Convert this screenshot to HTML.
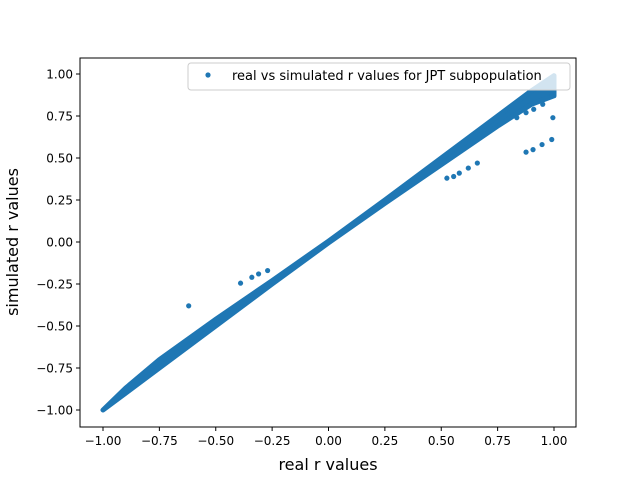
<!DOCTYPE html>
<html><head><meta charset="utf-8"><style>
body{margin:0;background:#fff;}
svg text{font-family:"DejaVu Sans","Liberation Sans",sans-serif;fill:#000;}
</style></head><body>
<svg id="chart" width="640" height="480" xmlns="http://www.w3.org/2000/svg">
<rect x="0" y="0" width="640" height="480" fill="#fff"/>
<g id="plot"></g>
<g id="axes"></g>
</svg>
<script>
const xTicks=[-1.00,-0.75,-0.50,-0.25,0.00,0.25,0.50,0.75,1.00];
const yTicks=[-1.00,-0.75,-0.50,-0.25,0.00,0.25,0.50,0.75,1.00];
const bandReal=[-1.0,-0.9,-0.75,-0.5,-0.25,0.0,0.25,0.5,0.75,0.9,1.0];
const bandSimLow=[-1.0,-0.9,-0.75,-0.5,-0.25,-0.005,0.23,0.46,0.69,0.82,0.87];
const bandSimHigh=[-1.0,-0.87,-0.7,-0.46,-0.23,0.005,0.25,0.5,0.75,0.9,0.99];
const outReal=[0.525,0.555,0.58,0.62,0.66,0.876,0.907,0.947,0.99,0.995,0.99,0.95,0.91,0.876,0.835,-0.62,-0.39,-0.34,-0.31,-0.27];
const outSim=[0.38,0.39,0.41,0.44,0.47,0.535,0.55,0.58,0.61,0.74,0.87,0.82,0.79,0.77,0.74,-0.38,-0.245,-0.21,-0.19,-0.17];
const NS="http://www.w3.org/2000/svg";
const L=80,R=576,T=58,B=427;
function sx(v){return 328.5+v*225.5;}
function sy(v){return 242-v*168;}
function mk(tag,attrs,parent){const e=document.createElementNS(NS,tag);for(const k in attrs)e.setAttribute(k,attrs[k]);parent.appendChild(e);return e;}
const plot=document.getElementById('plot'),axes=document.getElementById('axes');
const col='#1f77b4';
let pts=[];
for(let i=0;i<bandReal.length;i++)pts.push(sx(bandReal[i])+','+sy(bandSimHigh[i]));
for(let i=bandReal.length-1;i>=0;i--)pts.push(sx(bandReal[i])+','+sy(bandSimLow[i]));
const band=mk('polygon',{points:pts.join(' '),fill:col,stroke:col,'stroke-width':5,'stroke-linejoin':'round'},plot);


for(let i=0;i<outReal.length;i++){
  const c=mk('circle',{cx:sx(outReal[i]),cy:sy(outSim[i]),r:2.6,fill:col},plot);
  
  
}
const frame=mk('rect',{x:L,y:T,width:R-L,height:B-T,fill:'none',stroke:'#000','stroke-width':1},axes);


xTicks.forEach(v=>{
  mk('line',{x1:sx(v),x2:sx(v),y1:B,y2:B+4,stroke:'#000'},axes);
  const t=mk('text',{x:sx(v),y:B+18,'font-size':12,'text-anchor':'middle'},axes);
  t.textContent=v.toFixed(2).replace('-','\u2212');
  
  
});
yTicks.forEach(v=>{
  mk('line',{x1:L-4,x2:L,y1:sy(v),y2:sy(v),stroke:'#000'},axes);
  const t=mk('text',{x:L-7,y:sy(v)+4.5,'font-size':12,'text-anchor':'end'},axes);
  t.textContent=v.toFixed(2).replace('-','\u2212');
  
  
});
const xl=mk('text',{x:328,y:470,'font-size':16,'text-anchor':'middle'},axes);
xl.textContent='real r values';


const yl=mk('text',{x:0,y:0,'font-size':16,'text-anchor':'middle',transform:'translate(18,242) rotate(-90)'},axes);
yl.textContent='simulated r values';


const lg=mk('g',{},axes);


mk('rect',{x:188,y:63,width:382,height:27,rx:3,fill:'#fff','fill-opacity':0.8,stroke:'#ccc'},lg);
mk('circle',{cx:208,cy:75,r:2.6,fill:col},lg);
const lt=mk('text',{x:232,y:80,'font-size':13},lg);
lt.textContent='real vs simulated r values for JPT subpopulation';


</script>
</body></html>
